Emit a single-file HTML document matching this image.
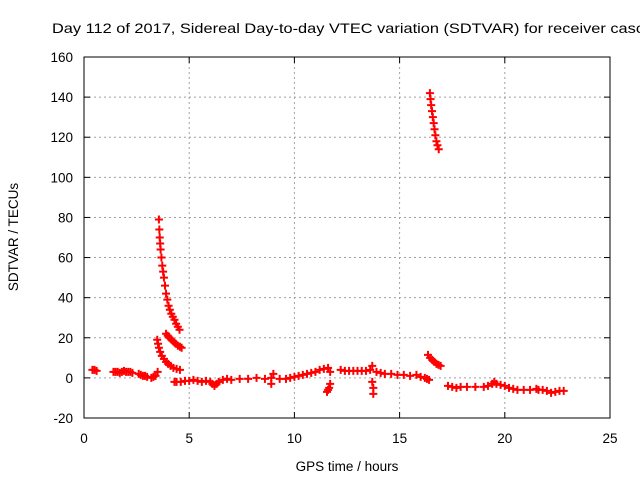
<!DOCTYPE html>
<html><head><meta charset="utf-8"><style>
html,body{margin:0;padding:0;background:#fff;}
svg{display:block;font-family:"Liberation Sans",sans-serif;}
</style></head><body>
<svg id="chart" width="640" height="480">
<rect width="640" height="480" fill="#fff"/>
<text x="52" y="33" font-size="14" textLength="592" lengthAdjust="spacingAndGlyphs" fill="#000">Day 112 of 2017, Sidereal Day-to-day VTEC variation (SDTVAR) for receiver casc</text>
<g id="grid"></g>
<g id="ticks"></g>
<g id="marks"></g>
<rect x="84" y="57" width="526" height="361" fill="none" stroke="#000" stroke-width="1"/>
<text x="347" y="471" font-size="13.5" text-anchor="middle">GPS time / hours</text>
<text transform="translate(18,237) rotate(-90)" font-size="13.5" text-anchor="middle">SDTVAR / TECUs</text>
</svg>
<script>
const xTicks = [0,5,10,15,20,25];
const yTicks = [-20,0,20,40,60,80,100,120,140,160];
const hours = [0.4,0.5,0.6,1.4,1.5,1.6,1.7,1.8,1.9,2.0,2.1,2.2,2.3,2.6,2.7,2.8,2.9,3.0,3.2,3.3,3.4,3.5,
3.56,3.58,3.60,3.62,3.64,3.68,3.72,3.76,3.80,3.85,3.90,3.96,4.02,4.08,4.15,4.22,4.30,4.38,4.46,4.54,
3.48,3.52,3.56,3.62,3.70,3.80,3.90,4.00,4.12,4.25,4.40,4.56,
3.90,3.98,4.06,4.16,4.26,4.36,4.46,4.56,4.64,
4.3,4.4,4.6,4.8,5.0,5.2,5.4,5.6,5.8,6.0,6.1,6.2,6.3,6.4,6.6,6.8,7.0,7.4,7.8,8.2,8.6,8.9,8.9,9.0,9.3,9.6,9.8,10.0,10.2,10.4,10.6,10.8,11.0,11.2,11.4,11.6,11.7,
11.55,11.6,11.65,11.7,
12.2,12.4,12.6,12.8,13.0,13.2,13.4,13.6,13.7,13.7,13.75,13.75,13.9,14.1,14.3,14.6,14.9,15.2,15.5,15.8,16.0,16.2,16.3,16.4,
16.44,16.47,16.5,16.54,16.58,16.62,16.66,16.7,16.75,16.8,16.86,
16.35,16.45,16.55,16.65,16.75,16.85,16.95,
17.3,17.5,17.7,17.9,18.2,18.6,19.0,19.2,19.4,19.5,19.6,19.8,20.0,20.2,20.4,20.6,20.9,21.2,21.5,21.6,21.8,22.0,22.2,22.4,22.6,22.8];
const sdtvar = [4,4,3.5,3,3,3,2.5,3,3.5,3,3,3,2.5,2,1.5,1,1,0.5,0,0.5,1,3,
79,74,70,67,64,60,56,53,50,46,42,39,36,34,32,30.5,29,27,25.5,24,
19,17,15,13,11,9.5,8,7,6,5,4.5,4,
22,21,20,19,18,17,16,15.5,15,
-2,-2,-2,-1.5,-1.5,-1,-1.5,-2,-1.5,-2,-3,-4,-3,-2,-1,-0.5,-1,-0.5,-0.5,0,-0.5,0,-3,2,-0.5,-0.5,0,0.5,1,1.5,2,2.5,3,4,4.5,5,3,
-7,-6,-5,-3,
4,3.5,3.5,3.5,3.5,3.5,3.5,4,6,-2,-5,-8,3,2.5,2,2,1.5,1.5,1,1.5,0.5,0,-0.5,-1,
142,139,136,133,130,127,124,121,118,116,114,
11.5,10,9,8,7,6.5,6,
-4,-4.5,-5,-4.5,-4.5,-4.5,-4.5,-4,-3,-2,-3,-3.5,-4,-5,-5.5,-6,-6,-6,-5.5,-6,-6,-6.5,-7.5,-7,-6.5,-6.5];

const L=84,R=610,T=57,B=418;
function xs(v){return L+(v-0)/25*(R-L);}
function ys(v){return B-(v+20)/180*(B-T);}
const NS='http://www.w3.org/2000/svg';
function mk(tag,attrs,parent){const e=document.createElementNS(NS,tag);for(const k in attrs)e.setAttribute(k,attrs[k]);parent.appendChild(e);return e;}
const grid=document.getElementById('grid'),ticks=document.getElementById('ticks'),marks=document.getElementById('marks');
xTicks.forEach(t=>{
  const x=xs(t);
  if(t>0&&t<25){const g=mk('line',{x1:x,x2:x,y1:T,y2:B,stroke:'#a0a0a0','stroke-dasharray':'2,3'},grid);
  
  }
  mk('line',{x1:x,x2:x,y1:B,y2:B-6,stroke:'#000'},ticks);
  mk('line',{x1:x,x2:x,y1:T,y2:T+6,stroke:'#000'},ticks);
  const lb=mk('text',{x:x,y:B+25,'font-size':'13.5','text-anchor':'middle'},ticks);
  lb.textContent=t;
  
  
});
yTicks.forEach(t=>{
  const y=ys(t);
  if(t>-20&&t<160){const g=mk('line',{x1:L,x2:R,y1:y,y2:y,stroke:'#a0a0a0','stroke-dasharray':'2,3'},grid);
  
  }
  mk('line',{x1:L,x2:L+6,y1:y,y2:y,stroke:'#000'},ticks);
  mk('line',{x1:R,x2:R-6,y1:y,y2:y,stroke:'#000'},ticks);
  const lb=mk('text',{x:L-11,y:y+5,'font-size':'13.5','text-anchor':'end'},ticks);
  lb.textContent=t;
  
  
});
hours.forEach((h,i)=>{
  const x=xs(h),y=ys(sdtvar[i]);
  const p=mk('path',{d:`M${x-4},${y}H${x+4}M${x},${y-4}V${y+4}`,stroke:'#ff0000','stroke-width':'2',fill:'none'},marks);
  
  
});
</script>
</body></html>
